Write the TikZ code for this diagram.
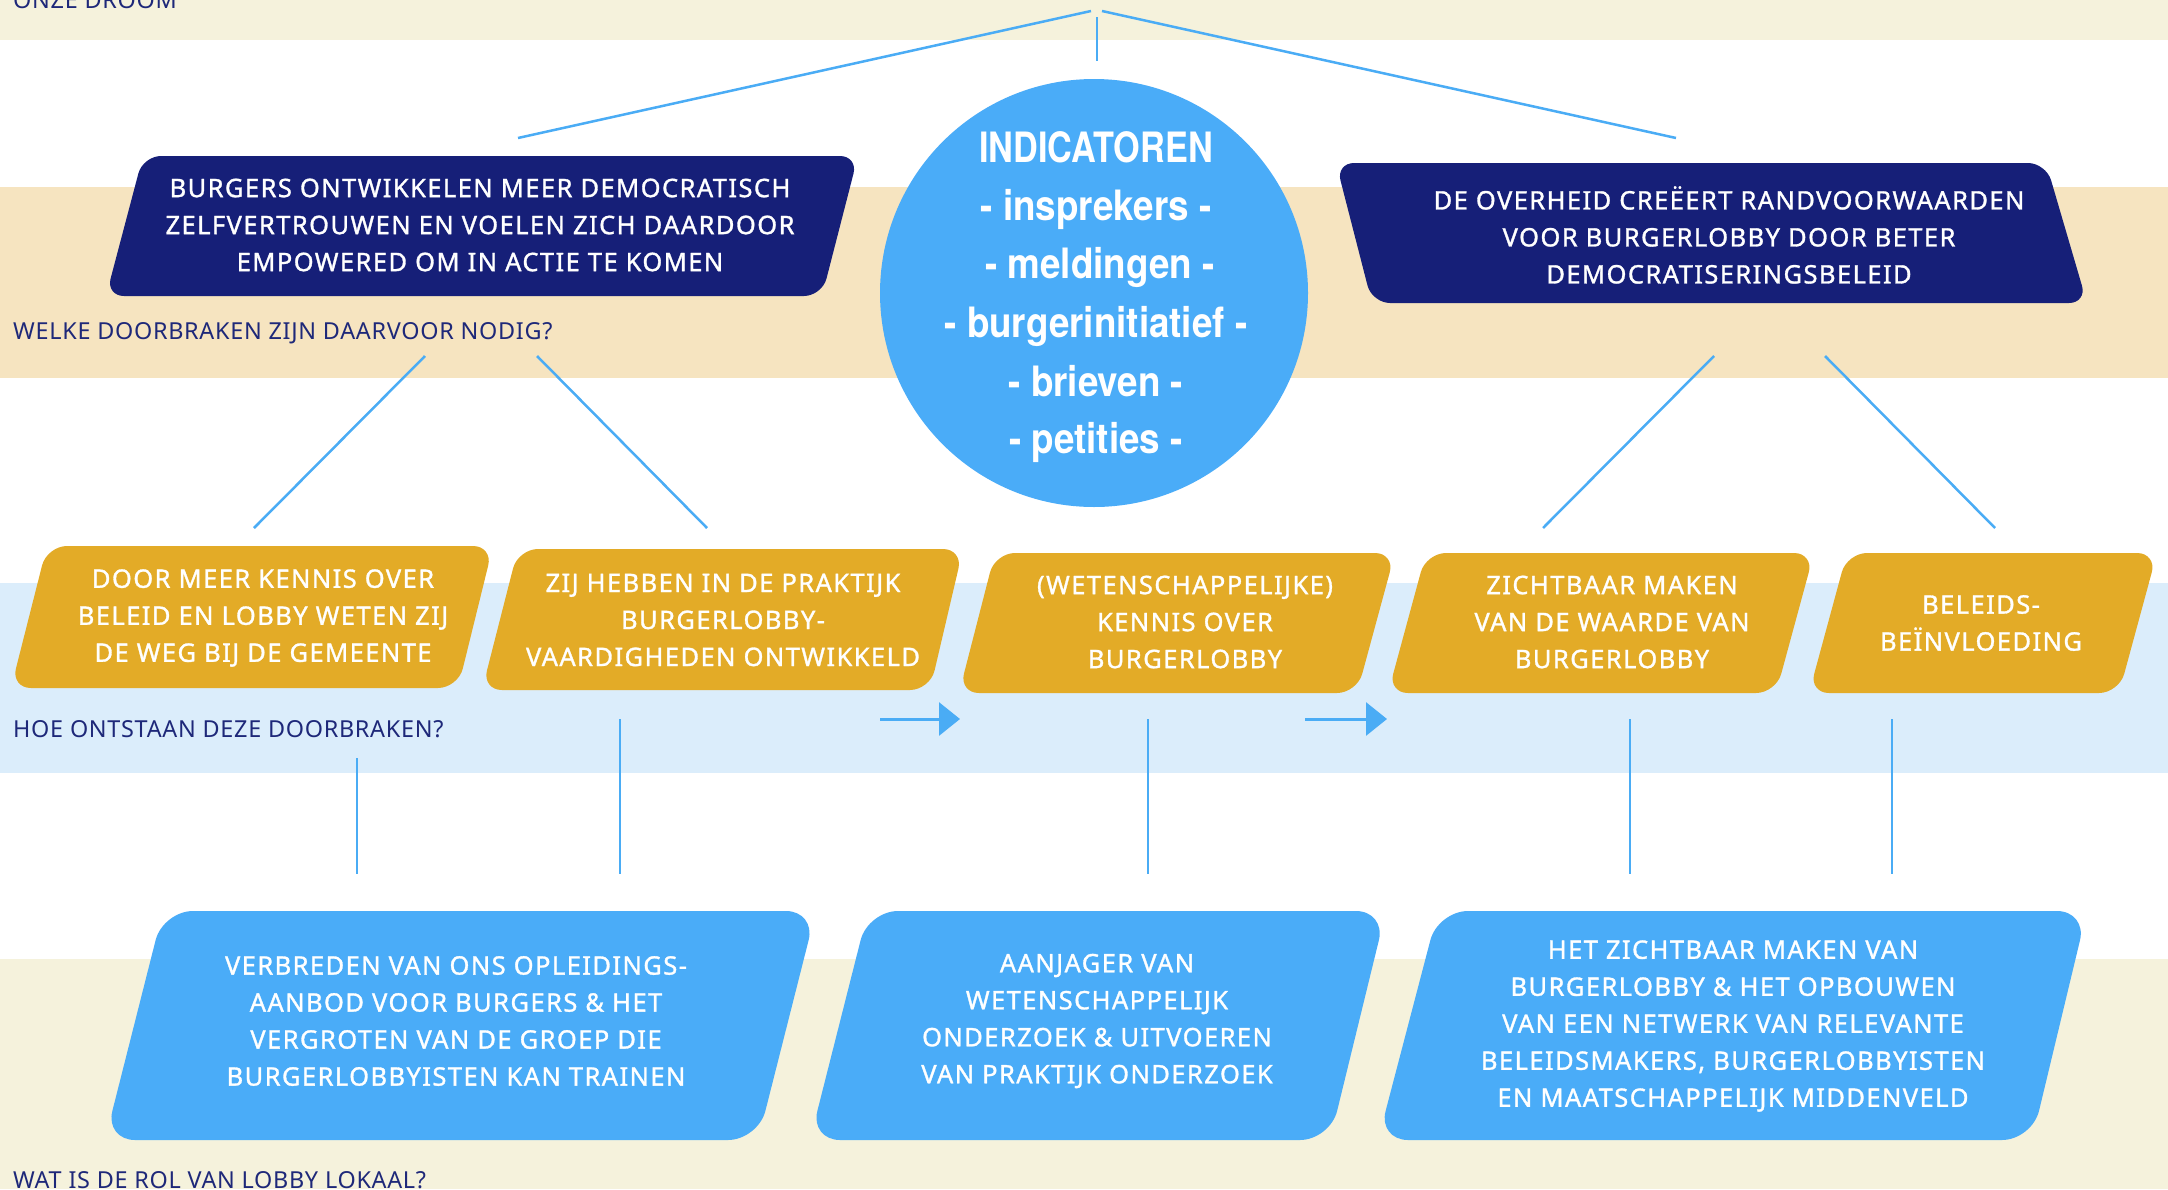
\documentclass[tikz,border=0pt]{standalone}
\usepackage{fontspec}
\setmainfont{Noto Sans}
\newfontfamily\boxfont[LetterSpace=5.6,FakeBold=1.2]{Noto Sans}
\newfontfamily\lblfont[LetterSpace=3]{Noto Sans}
\newfontfamily\circfont[FakeStretch=0.82]{TeX Gyre Heros}
\newfontfamily\circfontw[FakeStretch=0.88]{TeX Gyre Heros}
\usetikzlibrary{arrows.meta}
\definecolor{navy}{HTML}{161F78}
\definecolor{labelnavy}{HTML}{1E2879}
\definecolor{gold}{HTML}{E3AB27}
\definecolor{skyb}{HTML}{4AACF8}
\definecolor{linkb}{HTML}{4AACF5}
\definecolor{cream}{HTML}{F5F2DC}
\definecolor{tanband}{HTML}{F6E4C0}
\definecolor{lightb}{HTML}{DBEDFB}
\newcommand\slantbox[8]{\fill[#1,rounded corners=#2] (#3,#7) -- (#4,#7) -- (#5,#8) -- (#6,#8) -- cycle;}
\tikzset{
  boxtxt/.style={text=white, align=center, inner sep=0pt, font=\boxfont\fontsize{25.5}{37}\selectfont},
  lbl/.style={text=labelnavy, inner sep=0pt, anchor=base west, font=\lblfont\fontsize{23.4}{28}\selectfont},
  circtxt/.style={text=white, inner sep=0pt, anchor=base, font=\circfontw\bfseries\fontsize{41.8}{50}\selectfont},
  circhead/.style={circtxt, font=\circfont\bfseries\fontsize{41.8}{50}\selectfont},
  link/.style={draw=linkb, line width=2.5pt},
  flow/.style={draw=linkb, line width=3pt, -{Triangle[length=21pt,width=33pt]}}
}
\begin{document}
\begin{tikzpicture}[x=1pt,y=-1pt]
\useasboundingbox (0,0) rectangle (2168,1189);
% bands
\fill[white] (0,0) rectangle (2168,1189);
\fill[cream] (0,0) rectangle (2168,40);
\fill[tanband] (0,187) rectangle (2168,378);
\fill[lightb] (0,583) rectangle (2168,773);
\fill[cream] (0,959) rectangle (2168,1189);
% labels
\node[lbl] (lab0) at (13,8) {ONZE DROOM};
\node[lbl] (lab1) at (13,339) {WELKE DOORBRAKEN ZIJN DAARVOOR NODIG?};
\node[lbl] (lab2) at (13,737) {HOE ONTSTAAN DEZE DOORBRAKEN?};
\node[lbl] (lab3) at (13,1188) {WAT IS DE ROL VAN LOBBY LOKAAL?};
% top connectors
\coordinate (apexL) at (1091,11);
\coordinate (apexR) at (1102,11);
\coordinate (topL) at (518,138);
\coordinate (topR) at (1676,138);
\coordinate (vtop) at (1097,17);
\coordinate (vbot) at (1097,61);
\draw[link] (apexL) -- (topL);
\draw[link] (apexR) -- (topR);
\draw[link] (vtop) -- (vbot);
% diagonals
\coordinate (dA1) at (425,356); \coordinate (dA2) at (254,528);
\coordinate (dB1) at (537,356); \coordinate (dB2) at (707,528);
\coordinate (dC1) at (1714,356); \coordinate (dC2) at (1543,528);
\coordinate (dD1) at (1825,356); \coordinate (dD2) at (1995,528);
\draw[link] (dA1) -- (dA2);
\draw[link] (dB1) -- (dB2);
\draw[link] (dC1) -- (dC2);
\draw[link] (dD1) -- (dD2);
% verticals
\coordinate (v1a) at (357,758); \coordinate (v1b) at (357,874);
\coordinate (v2a) at (620,719); \coordinate (v2b) at (620,874);
\coordinate (v3a) at (1148,719); \coordinate (v3b) at (1148,874);
\coordinate (v4a) at (1630,719); \coordinate (v4b) at (1630,874);
\coordinate (v5a) at (1892,719); \coordinate (v5b) at (1892,874);
\draw[link,line width=2pt] (v1a) -- (v1b);
\draw[link,line width=2pt] (v2a) -- (v2b);
\draw[link,line width=2pt] (v3a) -- (v3b);
\draw[link,line width=2pt] (v4a) -- (v4b);
\draw[link,line width=2pt] (v5a) -- (v5b);
% arrows
\coordinate (ar1a) at (880,719); \coordinate (ar1b) at (960,719);
\coordinate (ar2a) at (1305,719); \coordinate (ar2b) at (1387,719);
\draw[flow] (ar1a) -- (ar1b);
\draw[flow] (ar2a) -- (ar2b);
% navy boxes
\slantbox{navy}{18pt}{143}{858}{822}{106}{156}{296}
\slantbox{navy}{18pt}{1336}{2046}{2087}{1372}{163}{303}
% gold boxes
\slantbox{gold}{20pt}{47}{493}{458}{11}{546}{688}
\slantbox{gold}{20pt}{518}{963}{930}{482}{549}{690}
\slantbox{gold}{20pt}{995}{1395}{1357}{959}{553}{693}
\slantbox{gold}{20pt}{1426}{1814}{1776}{1388}{553}{693}
\slantbox{gold}{20pt}{1847}{2157}{2119}{1809}{553}{693}
% bottom boxes
\slantbox{skyb}{30pt}{163}{816}{758}{105}{911}{1140}
\slantbox{skyb}{30pt}{868}{1386}{1330}{810}{911}{1140}
\slantbox{skyb}{30pt}{1438}{2087}{2032}{1378}{911}{1140}
% circle
\fill[skyb] (1094,293) circle[radius=214pt];
\node[circhead] (c1) at (1096,162) {INDICATOREN};
\node[circtxt] (c2) at (1096,220) {- insprekers -};
\node[circtxt] (c3) at (1100,278) {- meldingen -};
\node[circtxt] (c4) at (1096,337) {- burgerinitiatief -};
\node[circtxt] (c5) at (1096,396) {- brieven -};
\node[circtxt] (c6) at (1096,453) {- petities -};
% box texts
\node[boxtxt] (n1) at (480,225) {BURGERS ONTWIKKELEN MEER DEMOCRATISCH\\ZELFVERTROUWEN EN VOELEN ZICH DAARDOOR\\EMPOWERED OM IN ACTIE TE KOMEN};
\node[boxtxt] (n2) at (1729,235) {DE OVERHEID CREËERT RANDVOORWAARDEN\\VOOR BURGERLOBBY DOOR BETER\\DEMOCRATISERINGSBELEID};
\node[boxtxt] (g1) at (263,618) {DOOR MEER KENNIS OVER\\BELEID EN LOBBY WETEN ZIJ\\DE WEG BIJ DE GEMEENTE};
\node[boxtxt] (g2) at (723,620) {ZIJ HEBBEN IN DE PRAKTIJK\\BURGERLOBBY-\\VAARDIGHEDEN ONTWIKKELD};
\node[boxtxt] (g3) at (1185,622) {(WETENSCHAPPELIJKE)\\KENNIS OVER\\BURGERLOBBY};
\node[boxtxt] (g4) at (1612,622) {ZICHTBAAR MAKEN\\VAN DE WAARDE VAN\\BURGERLOBBY};
\node[boxtxt] (g5) at (1981,623) {BELEIDS-\\BEÏNVLOEDING};
\node[boxtxt] (b1) at (456,1021) {VERBREDEN VAN ONS OPLEIDINGS-\\AANBOD VOOR BURGERS \& HET\\VERGROTEN VAN DE GROEP DIE\\BURGERLOBBYISTEN KAN TRAINEN};
\node[boxtxt] (b2) at (1097,1021) {AANJAGER VAN\\WETENSCHAPPELIJK\\ONDERZOEK \& UITVOEREN\\VAN PRAKTIJK ONDERZOEK};
\node[boxtxt] (b3) at (1733,1026) {HET ZICHTBAAR MAKEN VAN\\BURGERLOBBY \& HET OPBOUWEN\\VAN EEN NETWERK VAN RELEVANTE\\BELEIDSMAKERS, BURGERLOBBYISTEN\\EN MAATSCHAPPELIJK MIDDENVELD};
\end{tikzpicture}
\end{document}
